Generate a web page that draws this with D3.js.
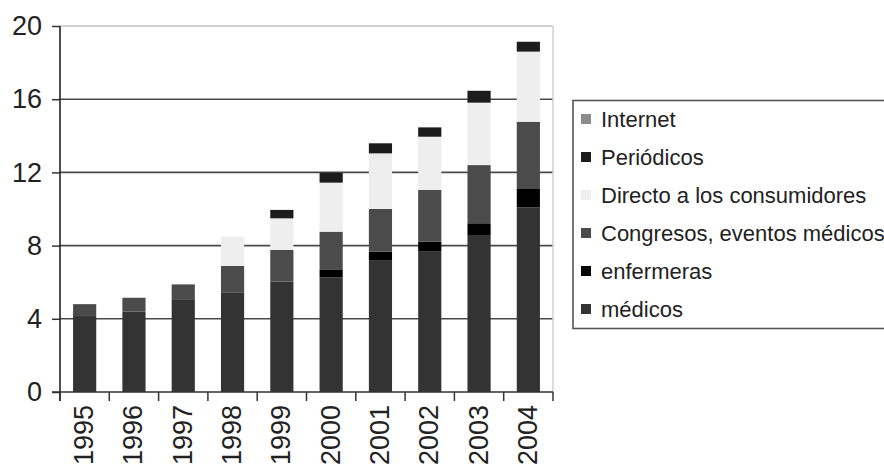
<!DOCTYPE html>
<html><head><meta charset="utf-8">
<script src="https://cdn.jsdelivr.net/npm/d3@7/dist/d3.min.js"></script>
<style>body{margin:0;background:#fff}svg{display:block;font-family:"Liberation Sans",Arial,sans-serif}</style>
</head><body>
<svg id="c" width="884" height="468"></svg>
<script>
const years = ["1995","1996","1997","1998","1999","2000","2001","2002","2003","2004"];
const medicos     = [4.15,4.39,5.03,5.45,6.03,6.27,7.21,7.67,8.58,10.09];
const enfermeras  = [0,0,0,0,0,0.40,0.46,0.54,0.64,1.04];
const congresos   = [0.65,0.76,0.85,1.44,1.73,2.09,2.33,2.83,3.18,3.64];
const directo     = [0,0,0,1.60,1.73,2.68,3.04,2.91,3.41,3.83];
const periodicos  = [0,0,0,0,0.46,0.54,0.55,0.51,0.65,0.54];
const internet    = [0,0,0,0,0,0,0,0,0,0];
const yTicks = [0,4,8,12,16,20];
const seriesNames = ["médicos","enfermeras","Congresos, eventos médicos","Directo a los consumidores","Periódicos","Internet"];
const seriesColors = ["#333333","#000000","#4b4b4b","#eeeeee","#1c1c1c","#8c8c8c"];
const seriesValues = [medicos,enfermeras,congresos,directo,periodicos,internet];

const svg = d3.select("#c");
const x = d3.scaleBand().domain(years).range([60,553]).padding(0);
const y = d3.scaleLinear().domain([0,20]).range([392,26]);

// gridlines
svg.append("g").selectAll("line").data(yTicks.filter(v=>v>0)).join("line")
  .attr("x1",60).attr("x2",553).attr("y1",d=>y(d)).attr("y2",d=>y(d))
  .attr("stroke",d=>d===20?"#c4c4c4":"#4a4a4a").attr("stroke-width",d=>d===20?1.5:1.6);
// right border
svg.append("line").attr("x1",553).attr("x2",553).attr("y1",y(20)).attr("y2",y(0))
  .attr("stroke","#d0d0d0").attr("stroke-width",1.5);

// stacks
const rows = years.map((yr,i)=>{const o={year:yr}; seriesNames.forEach((n,k)=>o[n]=seriesValues[k][i]); return o;});
const stack = d3.stack().keys(seriesNames)(rows);
const bw = x.bandwidth()*0.47;
svg.append("g").selectAll("g").data(stack).join("g")
  .attr("fill",(d,i)=>seriesColors[i])
  .selectAll("rect").data(d=>d).join("rect")
  .attr("x",d=>x(d.data.year)+(x.bandwidth()-bw)/2)
  .attr("width",bw)
  .attr("y",d=>y(d[1]))
  .attr("height",d=>Math.max(0,y(d[0])-y(d[1])));

// y axis
const ya = svg.append("g").attr("transform","translate(60,0)")
  .call(d3.axisLeft(y).tickValues(yTicks).tickSize(8).tickPadding(10).tickFormat(d3.format("d")));
ya.select(".domain").remove();
ya.selectAll("line").attr("stroke","#333").attr("stroke-width",1.5);
ya.selectAll("text").attr("font-size",27).attr("fill","#222").attr("font-family","Liberation Sans, Arial, sans-serif");
svg.append("line").attr("x1",60).attr("x2",60).attr("y1",y(20)).attr("y2",401)
  .attr("stroke","#222").attr("stroke-width",1.6);

// x axis
svg.append("line").attr("x1",52).attr("x2",553).attr("y1",y(0)).attr("y2",y(0))
  .attr("stroke","#333").attr("stroke-width",1.6);
const bounds = years.map(d=>x(d)).concat([x.range()[1]]);
svg.append("g").selectAll("line").data(bounds).join("line")
  .attr("x1",d=>d).attr("x2",d=>d).attr("y1",y(0)).attr("y2",401)
  .attr("stroke","#333").attr("stroke-width",1.5);
svg.append("g").selectAll("text").data(years).join("text")
  .attr("transform",d=>`translate(${x(d)+x.bandwidth()/2-1},405) rotate(-90)`)
  .attr("text-anchor","end").attr("dy","0.35em")
  .attr("font-size",27).attr("fill","#222").text(d=>d);

// legend
const lg = svg.append("g");
lg.append("rect").attr("x",573).attr("y",100.5).attr("width",400).attr("height",228)
  .attr("fill","#fff").attr("stroke","#555").attr("stroke-width",1.6);
const legendOrder = [5,4,3,2,1,0];
const items = lg.selectAll("g.it").data(legendOrder).join("g").attr("class","it")
  .attr("transform",(d,i)=>`translate(0,${119+i*38})`);
items.append("rect").attr("x",581).attr("y",-5).attr("width",10).attr("height",10)
  .attr("fill",d=>seriesColors[d]);
items.append("text").attr("x",601).attr("dy","0.35em").attr("font-size",22)
  .attr("fill","#222").text(d=>seriesNames[d]);
</script>
</body></html>
